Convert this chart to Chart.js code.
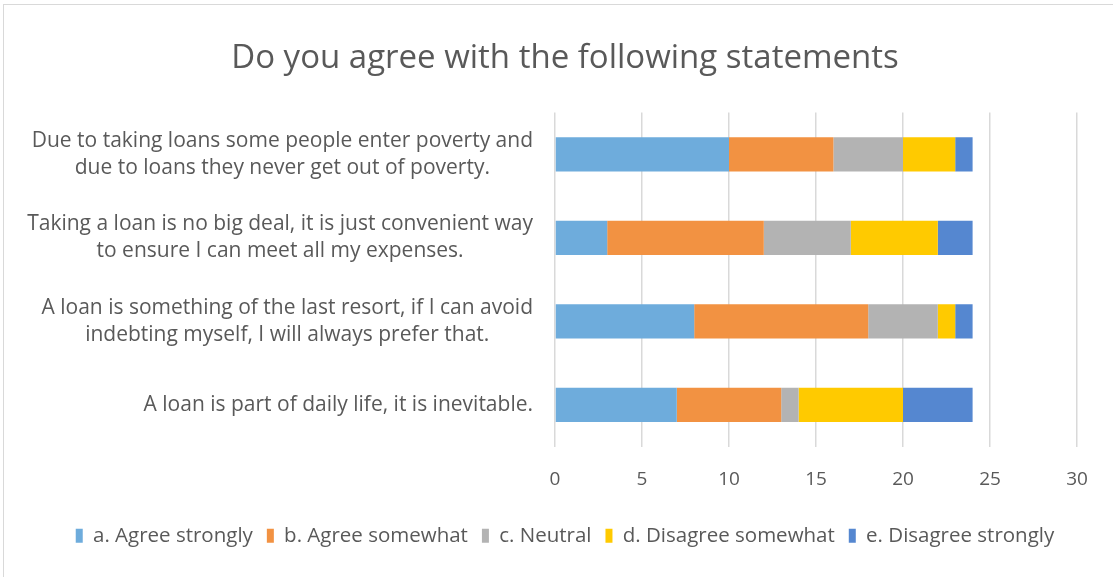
<!DOCTYPE html>
<html>
<head>
<meta charset="utf-8">
<script src="https://cdn.jsdelivr.net/npm/chart.js@4"></script>
<style>
  body { margin: 0; background: #fff; }
  #frame { position: absolute; left: 3px; top: 4px; width: 1200px; height: 700px; border: 1px solid #d9d9d9; }
  #wrap { position: absolute; left: 0; top: 0; width: 1113px; height: 577px; }
</style>
</head>
<body>
<div id="frame"></div>
<div id="wrap"><canvas id="surveyChart"></canvas></div>
<script>
  var statements = [
    ['Due to taking loans some people enter poverty and', 'due to loans they never get out of poverty.'],
    ['Taking a loan is no big deal, it is just convenient way', 'to ensure I can meet all my expenses.'],
    ['A loan is something of the last resort, if I can avoid', 'indebting myself, I will always prefer that.'],
    ['A loan is part of daily life, it is inevitable.']
  ];
  var agreeStrongly = [10, 3, 8, 7];
  var agreeSomewhat = [6, 9, 10, 6];
  var neutral = [4, 5, 4, 1];
  var disagreeSomewhat = [3, 5, 1, 6];
  var disagreeStrongly = [1, 2, 1, 4];
  var xTicks = [0, 5, 10, 15, 20, 25, 30];

  var fontFamily = '"Open Sans", sans-serif';
  var textColor = '#595959';

  // draws the category labels: block right aligned, lines centered inside the block
  var centeredLabels = {
    id: 'centeredLabels',
    afterDraw: function(chart) {
      var ctx = chart.ctx;
      var yScale = chart.scales.y;
      ctx.save();
      ctx.font = '21px ' + fontFamily;
      ctx.fillStyle = textColor;
      ctx.textAlign = 'center';
      ctx.textBaseline = 'middle';
      var right = yScale.right - 22;
      statements.forEach(function(lines, i) {
        var w = 0;
        lines.forEach(function(l) { w = Math.max(w, ctx.measureText(l).width); });
        var cx = right - w / 2;
        var cy = yScale.getPixelForValue(i);
        var lh = 27;
        lines.forEach(function(l, j) {
          ctx.fillText(l, cx, cy + (j - (lines.length - 1) / 2) * lh);
        });
      });
      ctx.restore();
    }
  };

  document.addEventListener("DOMContentLoaded", function() {
    var ctx = document.getElementById('surveyChart').getContext('2d');
    var surveyChart = new Chart(ctx, {
      type: 'bar',
      data: {
        labels: statements,
        datasets: [
          { label: 'a. Agree strongly', data: agreeStrongly, backgroundColor: '#6eacdc' },
          { label: 'b. Agree somewhat', data: agreeSomewhat, backgroundColor: '#f29242' },
          { label: 'c. Neutral', data: neutral, backgroundColor: '#b3b3b3' },
          { label: 'd. Disagree somewhat', data: disagreeSomewhat, backgroundColor: '#ffca00' },
          { label: 'e. Disagree strongly', data: disagreeStrongly, backgroundColor: '#5587d0' }
        ]
      },
      plugins: [centeredLabels],
      options: {
        indexAxis: 'y',
        responsive: true,
        maintainAspectRatio: false,
        animation: false,
        layout: { padding: { left: 53, right: 36, top: 0, bottom: 21 } },
        datasets: {
          bar: { barPercentage: 0.41, categoryPercentage: 1, borderWidth: 0 }
        },
        scales: {
          x: {
            stacked: true,
            min: 0,
            max: 30,
            afterBuildTicks: function(scale) {
              scale.ticks = xTicks.map(function(v) { return { value: v }; });
            },
            border: { display: false },
            grid: { color: '#d9d9d9', lineWidth: 1.5, drawTicks: false },
            ticks: { color: textColor, font: { family: fontFamily, size: 19 }, padding: 21 }
          },
          y: {
            stacked: true,
            afterFit: function(scale) { scale.width = 502; },
            border: { display: false },
            grid: { display: false },
            ticks: { display: false }
          }
        },
        plugins: {
          title: {
            display: true,
            text: 'Do you agree with the following statements',
            color: textColor,
            font: { family: fontFamily, size: 33, weight: 'normal' },
            padding: { top: 39, bottom: 34 }
          },
          legend: {
            position: 'bottom',
            labels: {
              color: textColor,
              font: { family: fontFamily, size: 20.5 },
              boxWidth: 7,
              boxHeight: 14,
              padding: 14
            }
          },
          tooltip: { enabled: false }
        }
      }
    });
  });
</script>
</body>
</html>
